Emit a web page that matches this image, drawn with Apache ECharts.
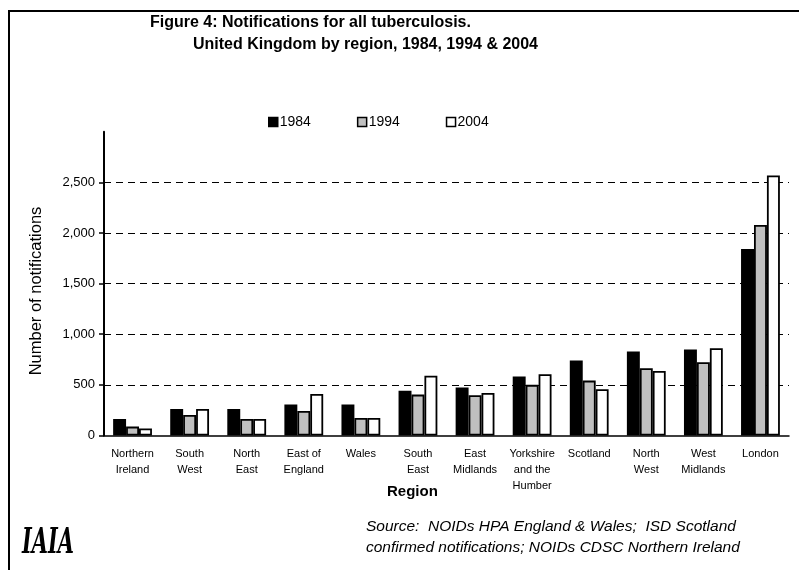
<!DOCTYPE html>
<html>
<head>
<meta charset="utf-8">
<script src="https://cdn.jsdelivr.net/npm/echarts@6/dist/echarts.min.js"></script>
<style>
  html, body { margin: 0; padding: 0; background: #ffffff; }
  #chart { width: 799px; height: 570px; }
</style>
</head>
<body>
<div id="chart"></div>
<script>
// Tuberculosis notifications by UK region
const regions = [
  'Northern\nIreland', 'South\nWest', 'North\nEast', 'East of\nEngland', 'Wales',
  'South\nEast', 'East\nMidlands', 'Yorkshire\nand the\nHumber', 'Scotland',
  'North\nWest', 'West\nMidlands', 'London'
];
const years = ['1984', '1994', '2004'];
const cases1984 = [162, 262, 262, 305, 305, 443, 473, 582, 740, 829, 849, 1842];
const cases1994 = [88, 203, 163, 242, 173, 404, 398, 500, 542, 665, 724, 2079];
const cases2004 = [70, 262, 163, 410, 173, 591, 420, 605, 457, 638, 862, 2567];
const yTicks = [0, 500, 1000, 1500, 2000, 2500];
const yMax = 3000;

const FONT = '"Liberation Sans", Arial, sans-serif';
const fills = ['#000000', '#c0c0c0', '#ffffff'];
const seriesValues = [cases1984, cases1994, cases2004];

const chart = echarts.init(document.getElementById('chart'), null, { renderer: 'canvas' });

chart.setOption({
  animation: false,
  backgroundColor: '#ffffff',
  textStyle: { fontFamily: FONT, color: '#000' },
  title: [
    {
      text: 'Figure 4: Notifications for all tuberculosis.',
      left: 145, top: 10,
      textStyle: { fontFamily: FONT, fontSize: 16, fontWeight: 'bold', color: '#000' }
    },
    {
      text: 'United Kingdom by region, 1984, 1994 & 2004',
      left: 188, top: 32,
      textStyle: { fontFamily: FONT, fontSize: 16, fontWeight: 'bold', color: '#000' }
    }
  ],
  legend: {
    data: years,
    left: 263, top: 110,
    icon: 'rect',
    itemWidth: 9, itemHeight: 9,
    itemGap: 46,
    textStyle: { fontFamily: FONT, fontSize: 14, color: '#000', padding: [0, 0, 0, -3] },
    itemStyle: { borderColor: '#000', borderWidth: 1.5 }
  },
  grid: { left: 104, right: 10, top: 131.7, bottom: 134.5, containLabel: false },
  xAxis: {
    type: 'category',
    data: regions,
    axisLine: { show: true, lineStyle: { color: '#000', width: 1.5 } },
    axisTick: { show: false },
    axisLabel: {
      interval: 0, margin: 10,
      fontFamily: FONT, fontSize: 11, lineHeight: 16, color: '#000'
    }
  },
  yAxis: {
    type: 'value',
    min: 0, max: yMax, interval: 500,
    axisLine: { show: true, lineStyle: { color: '#000', width: 2 } },
    axisTick: {
      show: true, inside: false, length: 5,
      lineStyle: { color: '#000', width: 1.5 },
      customValues: yTicks
    },
    axisLabel: {
      margin: 9,
      customValues: yTicks,
      fontFamily: FONT, fontSize: 13, color: '#000',
      formatter: v => v.toLocaleString('en-GB')
    },
    splitLine: {
      show: true, showMinLine: false,
      lineStyle: { color: '#000', width: 1, type: [7, 5] }
    }
  },
  series: years.map((y, i) => ({
    name: y,
    type: 'bar',
    data: seriesValues[i],
    barGap: '0%',
    barCategoryGap: '32%',
    itemStyle: { color: fills[i], borderColor: '#000', borderWidth: 1.8 }
  })),
  graphic: [
    {
      type: 'rect', silent: true, z: 100,
      shape: { x: 9, y: 11, width: 900, height: 700 },
      style: { fill: 'none', stroke: '#000', lineWidth: 2 }
    },
    {
      type: 'text', x: 36, y: 291, rotation: Math.PI / 2,
      style: {
        text: 'Number of notifications', font: '16.5px ' + FONT, fill: '#000',
        textAlign: 'center', textVerticalAlign: 'middle'
      }
    },
    {
      type: 'text', left: 387, top: 484,
      style: { text: 'Region', font: 'bold 15px ' + FONT, fill: '#000' }
    },
    {
      type: 'text', left: 366, top: 516,
      style: {
        text: 'Source:  NOIDs HPA England & Wales;  ISD Scotland\nconfirmed notifications; NOIDs CDSC Northern Ireland',
        font: 'italic 15.5px ' + FONT, lineHeight: 21, fill: '#000'
      }
    },
    {
      type: 'text', x: 22, y: 526, scaleX: 0.58,
      style: { text: 'IAIA', font: 'italic bold 36px "DejaVu Serif", serif', fill: '#000' }
    }
  ]
});
</script>
</body>
</html>
